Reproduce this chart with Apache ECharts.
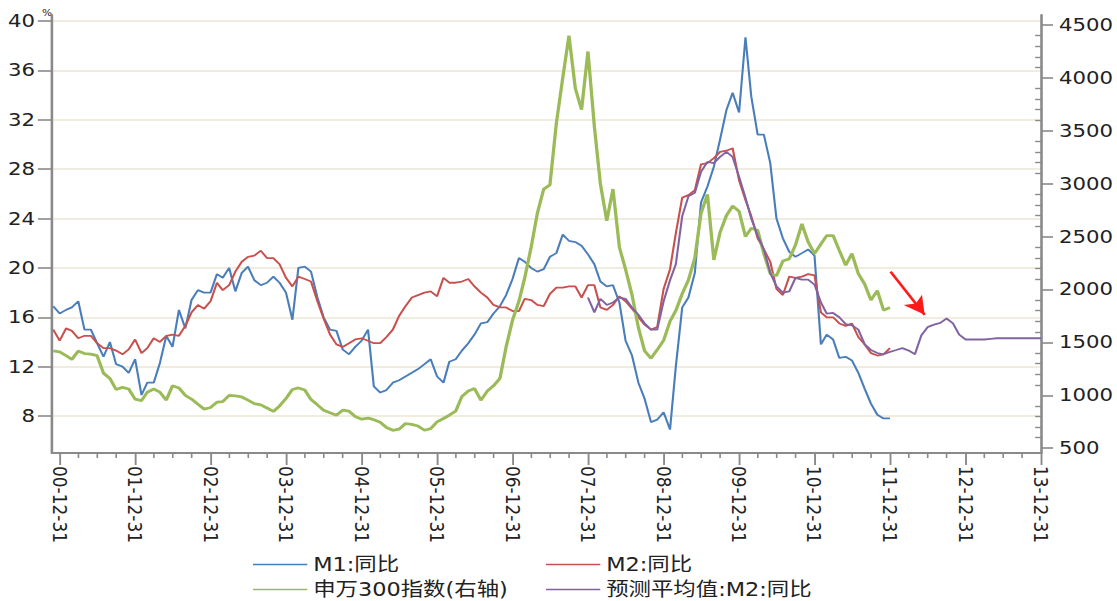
<!DOCTYPE html>
<html><head><meta charset="utf-8">
<script src="https://cdn.jsdelivr.net/npm/echarts@6/dist/echarts.min.js"></script>
<style>
html,body{margin:0;padding:0;background:#fff;overflow:hidden;}
#wrap{width:1117px;height:601px;overflow:hidden;background:#fff;}
#chart{width:947px;height:601px;transform:scaleX(1.17951);transform-origin:0 0;}
</style></head><body>
<div id="wrap"><div id="chart"></div></div>
<script>
// ---- data (monthly, month-end) ----
const seriesStart = [2000, 11];          // first point: Nov 2000
const forecastStart = [2007, 12];        // first forecast point: Dec 2007

const m1 = [16.9,16.3,16.6,16.8,17.3,15.0,15.0,13.9,12.8,14.0,12.2,12.0,11.5,12.6,9.7,10.7,10.7,12.3,14.5,13.6,16.6,15.1,17.4,18.2,18.0,
18.0,19.5,19.2,20.0,18.1,19.6,20.1,19.0,18.6,18.8,19.3,18.8,
18.0,15.8,20.0,20.1,19.7,17.6,16.0,15.0,14.9,13.4,13.0,13.6,
14.1,15.0,10.4,9.9,10.1,10.7,10.9,11.2,11.5,11.8,12.2,12.6,
11.2,10.7,12.4,12.6,13.3,13.9,14.6,15.5,15.6,16.3,16.9,17.8,
19.1,20.8,20.5,20.0,19.7,19.9,20.9,21.2,22.7,22.2,22.1,21.8,
21.1,20.3,18.9,18.5,18.6,17.2,14.1,12.9,10.7,9.4,7.5,7.7,8.3,
6.9,12.0,16.8,17.6,19.6,25.3,26.6,28.2,30.4,32.8,34.2,32.6,
38.7,33.9,30.8,30.8,28.5,24.0,22.4,21.3,20.9,21.2,21.5,21.0,
13.8,14.6,14.2,12.7,12.8,12.5,11.5,10.2,9.0,8.1,7.8,7.8];

const m2 = [15.0,14.1,15.1,14.9,14.3,14.5,14.5,13.9,13.5,13.5,13.3,13.0,13.4,14.2,13.1,13.5,14.3,14.0,14.5,14.6,14.5,15.3,16.4,17.0,16.7,
17.3,18.8,18.2,18.6,19.7,20.5,20.9,21.0,21.4,20.8,20.8,20.3,
19.2,18.5,19.3,19.1,18.9,17.3,15.9,14.6,13.8,13.6,13.9,14.2,
14.3,14.1,13.9,13.9,14.4,15.0,16.1,16.9,17.6,17.8,18.0,18.1,
17.7,19.2,18.8,18.8,18.9,19.1,18.5,18.0,17.6,17.0,16.8,16.8,
16.5,16.5,17.5,17.4,17.0,16.9,17.9,18.4,18.4,18.5,18.5,17.6,
18.6,18.6,16.8,16.6,17.0,17.7,17.3,16.7,16.0,15.4,15.0,15.2,18.3,
19.9,22.8,25.7,25.9,26.3,28.4,28.5,28.9,29.4,29.5,29.7,27.1,
25.5,24.2,22.4,21.5,20.5,18.3,17.8,19.3,19.2,19.3,19.5,19.4,
16.4,16.0,16.0,15.5,15.3,15.5,14.4,13.8,13.1,12.9,13.0,13.5];

const sw300 = [1420,1411,1375,1340,1420,1395,1390,1375,1210,1160,1055,1075,1060,965,950,1030,1060,1030,955,1090,1070,1000,965,915,870,
885,935,940,1000,995,985,955,922,910,880,848,900,
970,1055,1070,1050,960,910,860,835,812,860,850,800,
775,785,770,745,695,670,680,733,725,710,670,685,
749,781,812,850,990,1040,1064,954,1040,1090,1160,1458,
1711,1890,2110,2400,2720,2950,2990,3570,4000,4400,3900,3700,
4250,3540,3000,2650,2950,2400,2190,1950,1640,1420,1350,1430,1520,
1700,1800,1960,2090,2300,2720,2900,2280,2540,2700,2790,2740,
2500,2580,2560,2340,2150,2130,2270,2290,2420,2620,2450,2340,
2430,2510,2510,2370,2230,2340,2150,2050,1900,1990,1805,1830];

const m2Forecast = [17.6,16.4,17.5,17.0,17.2,17.6,17.5,16.8,16.2,15.5,15.0,15.0,17.3,
19.0,20.3,24.2,25.8,26.1,27.8,28.6,28.5,29.0,29.4,29.0,27.4,
25.7,24.0,22.6,21.5,19.6,18.5,18.0,18.1,19.2,19.05,19.05,18.65,
17.2,16.3,16.35,16.0,15.45,15.35,15.0,13.8,13.35,13.1,13.0,13.2,
13.35,13.5,13.3,13.0,14.55,15.2,15.4,15.55,15.9,15.5,14.6,14.2,
14.2,14.2,14.2,14.25,14.3,14.3,14.3,14.3,14.3,14.3,14.3,14.3];

const leftTicks = [8,12,16,20,24,28,32,36,40];
const rightTicks = [500,1000,1500,2000,2500,3000,3500,4000,4500];
const tickYears = [2000,2001,2002,2003,2004,2005,2006,2007,2008,2009,2010,2011,2012,2013];
const seriesNames = ['M1:同比','M2:同比','申万300指数(右轴)','预测平均值:M2:同比'];
const arrowFrom = [[2012,1,3], 19.7];
const arrowTo = [[2012,6,16], 16.2];

// ---- helpers ----
function monthEnd(y, m, i){ return Date.UTC(y, m + i, 0); }
function toPairs(arr, start){ return arr.map((v,i)=>[monthEnd(start[0], start[1], i), v]); }
function ymd(a){ return Date.UTC(a[0], a[1]-1, a[2]); }
const yearEnds = tickYears.map(y=>Date.UTC(y,11,31));
const quarterEnds = [];
tickYears.forEach(y=>{ quarterEnds.push(Date.UTC(y,2,31), Date.UTC(y,5,30), Date.UTC(y,8,30)); });
const xMin = Date.UTC(2000,10,24), xMax = Date.UTC(2013,11,31);
const minorRight = [];
for (let v=500; v<=4600; v+=100){ if (v%500!==0) minorRight.push(v); }
function fmtDate(val){
  const d = new Date(val);
  const yy = String(d.getUTCFullYear()%100).padStart(2,'0');
  const mm = String(d.getUTCMonth()+1).padStart(2,'0');
  const dd = String(d.getUTCDate()).padStart(2,'0');
  return yy+'-'+mm+'-'+dd;
}

const axisGray = '#8a8a8a';
const labelFont = {fontFamily:'DejaVu Sans', color:'#222'};
const legendCommon = {
  orient:'horizontal', padding:0, itemWidth:46, itemHeight:14, itemGap:0,
  icon:'path://M0,0L100,0L100,3L0,3Z', symbolKeepAspect:true,
  itemStyle:{borderWidth:0, borderColor:'transparent'},
  lineStyle:{width:1.2},
  textStyle:{fontSize:19, fontFamily:"'DejaVu Sans','Noto Sans CJK SC'", color:'#222'},
  selectedMode:false
};

const chart = echarts.init(document.getElementById('chart'), null, {renderer:'svg'});
chart.setOption({
  animation:false,
  backgroundColor:'#fff',
  grid:{left:44.1, right:64.4, top:15, bottom:148, outerBoundsMode:'none', containLabel:false},
  legend:[
    Object.assign({data:[seriesNames[0]], left:214.5, top:555}, legendCommon),
    Object.assign({data:[seriesNames[1]], left:462.9, top:555}, legendCommon),
    Object.assign({data:[seriesNames[2]], left:214.5, top:580}, legendCommon),
    Object.assign({data:[seriesNames[3]], left:462.9, top:580}, legendCommon)
  ],
  xAxis:[
    {type:'value', min:xMin, max:xMax, position:'bottom',
     axisLine:{show:true, onZero:false, lineStyle:{color:axisGray, width:2.2}},
     axisTick:{show:true, length:12, customValues:yearEnds, lineStyle:{color:axisGray, width:1.6}},
     axisLabel:{show:true, customValues:yearEnds, rotate:-90, margin:13, fontSize:17, formatter:fmtDate, ...labelFont},
     splitLine:{show:false}},
    {type:'value', min:xMin, max:xMax, position:'bottom',
     axisLine:{show:false},
     axisTick:{show:true, length:5, customValues:quarterEnds, lineStyle:{color:axisGray, width:1.4}},
     axisLabel:{show:false}, splitLine:{show:false}}
  ],
  yAxis:[
    {type:'value', min:5.0, max:40.5, position:'left',
     name:'%', nameLocation:'end', nameGap:-2,
     nameTextStyle:{fontSize:9, align:'right', verticalAlign:'bottom', color:'#222', fontFamily:'DejaVu Sans'},
     axisLine:{show:true, lineStyle:{color:axisGray, width:2.2}},
     axisTick:{show:true, length:12, customValues:leftTicks, lineStyle:{color:axisGray, width:1.6}},
     axisLabel:{customValues:leftTicks, fontSize:18, margin:14.5, formatter:(v)=>String(v), ...labelFont},
     splitLine:{show:true, lineStyle:{color:'#ebe6d3', width:1.6}}},
    {type:'value', min:455, max:4595, position:'right',
     axisLine:{show:true, lineStyle:{color:axisGray, width:2.2}},
     axisTick:{show:true, length:10.2, customValues:rightTicks, lineStyle:{color:axisGray, width:1.6}},
     axisLabel:{customValues:rightTicks, fontSize:18, margin:15.2, formatter:(v)=>String(v), ...labelFont},
     splitLine:{show:false}},
    {type:'value', min:455, max:4595, position:'right',
     axisLine:{show:false},
     axisTick:{show:true, inside:true, length:5, customValues:minorRight, lineStyle:{color:axisGray, width:1.4}},
     axisLabel:{show:false}, splitLine:{show:false}}
  ],
  series:[
    {name:seriesNames[0], type:'line', xAxisIndex:0, yAxisIndex:0, data:toPairs(m1, seriesStart),
     symbol:'none', showSymbol:false, color:'#4a7ebb', lineStyle:{color:'#4a7ebb', width:1.8}},
    {name:seriesNames[1], type:'line', xAxisIndex:0, yAxisIndex:0, data:toPairs(m2, seriesStart),
     symbol:'none', showSymbol:false, color:'#c8504d', lineStyle:{color:'#c8504d', width:1.8}},
    {name:seriesNames[2], type:'line', xAxisIndex:0, yAxisIndex:1, data:toPairs(sw300, seriesStart),
     symbol:'none', showSymbol:false, color:'#9bbb59', lineStyle:{color:'#9bbb59', width:2.8}},
    {name:seriesNames[3], type:'line', xAxisIndex:0, yAxisIndex:0, data:toPairs(m2Forecast, forecastStart),
     symbol:'none', showSymbol:false, color:'#8064a2', lineStyle:{color:'#8064a2', width:1.8},
     markLine:{silent:true, symbol:['none','arrow'], symbolSize:[14,18], label:{show:false},
       lineStyle:{color:'#ff1a1a', width:2.4, type:'solid'}, emphasis:{disabled:true},
       data:[[{coord:[ymd(arrowFrom[0]), arrowFrom[1]]},{coord:[ymd(arrowTo[0]), arrowTo[1]]}]]}}
  ]
});
</script>
</body></html>
